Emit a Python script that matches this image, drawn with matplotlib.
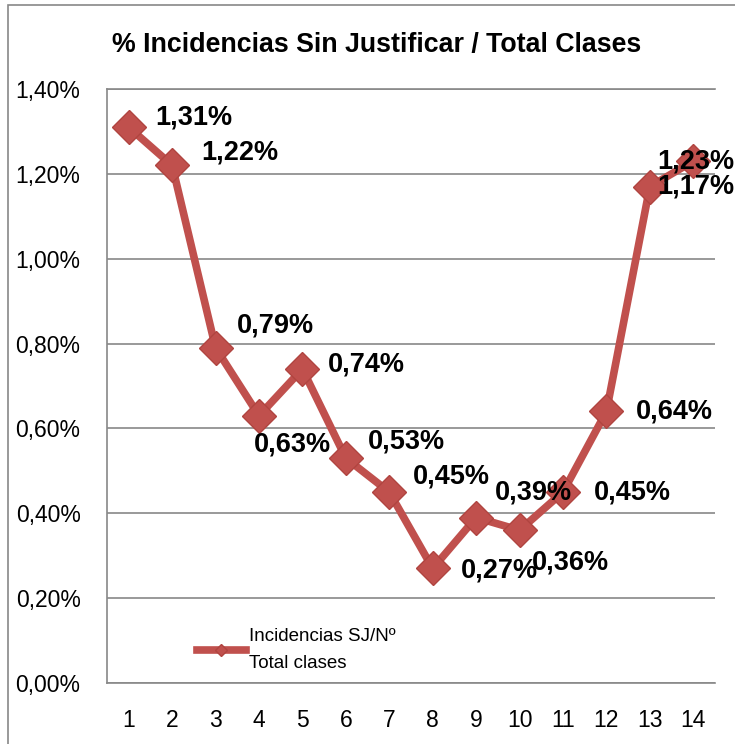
import matplotlib.pyplot as plt
from matplotlib.patches import Rectangle
from matplotlib.ticker import FuncFormatter

# datos
semanas = list(range(1, 15))
porcentaje = [1.31, 1.22, 0.79, 0.63, 0.74, 0.53, 0.45, 0.27, 0.39, 0.36, 0.45, 0.64, 1.17, 1.23]
etiquetas = ["1,31%", "1,22%", "0,79%", "0,63%", "0,74%", "0,53%", "0,45%",
             "0,27%", "0,39%", "0,36%", "0,45%", "0,64%", "1,17%", "1,23%"]

# desplazamiento de cada etiqueta (pixels)
desp = [(65, 10), (68, 13), (60, 22), (33, -29), (64, 5), (61, 17), (62, 16),
        (67, -2), (57, 25), (51, -32), (69, 0), (68, 0), (46, 0), (3, 0)]

rojo = "#C0504D"
fuente = "Liberation Sans"

fig = plt.figure(figsize=(7.35, 7.44), dpi=100)
fig.patches.append(Rectangle((8 / 735, -0.1), 1.2, 1 - 5 / 744 + 0.1, transform=fig.transFigure,
                             fill=False, edgecolor="#888888", linewidth=1.2))
ax = fig.add_axes([107 / 735, 1 - 683 / 744, 608 / 735, 594 / 744])

ax.plot(semanas, porcentaje, color=rojo, linewidth=5.5, marker="D", markersize=17,
        markerfacecolor=rojo, markeredgecolor="#B04440", label="Incidencias SJ/Nº\nTotal clases")

for x, y, t, (dx, dy) in zip(semanas, porcentaje, etiquetas, desp):
    ax.annotate(t, (x, y), xytext=(dx, dy), textcoords="offset pixels", ha="center", va="center",
                fontsize=19.5, fontweight="bold", family=fuente)

ax.set_xlim(0.5, 14.5)
ax.set_ylim(0, 1.4)
ax.set_xticks(semanas)
ax.set_yticks([0, 0.2, 0.4, 0.6, 0.8, 1.0, 1.2, 1.4])
ax.yaxis.set_major_formatter(FuncFormatter(lambda v, p: ("%.2f%%" % v).replace(".", ",")))
ax.tick_params(length=0, labelsize=16.5)
ax.tick_params(axis="x", pad=19)
ax.tick_params(axis="y", pad=19)
for lab in ax.get_xticklabels() + ax.get_yticklabels():
    lab.set_family(fuente)
ax.grid(axis="y", color="#888888", linewidth=1.2)
for s in ["left", "bottom", "top"]:
    ax.spines[s].set_color("#888888")
    ax.spines[s].set_linewidth(1.2)
ax.spines["right"].set_visible(False)

fig.text(0.512, 1 - 45 / 744, "% Incidencias Sin Justificar / Total Clases", ha="center", va="center",
         fontsize=19.3, fontweight="bold", family=fuente)

leg = ax.legend(loc="lower left", bbox_to_anchor=(0.12, -0.01), frameon=False, handlelength=2.6,
                handletextpad=0.2, prop={"family": fuente, "size": 13.5}, markerscale=0.35)
for t in leg.get_texts():
    t.set_linespacing(1.75)

fig.savefig("out.png", dpi=100)
